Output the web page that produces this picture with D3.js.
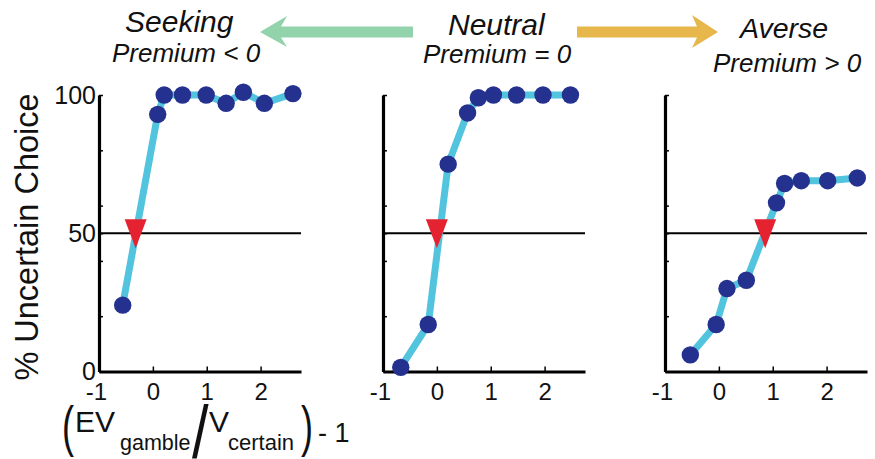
<!DOCTYPE html>
<html>
<head>
<meta charset="utf-8">
<script src="https://cdn.jsdelivr.net/npm/d3@7"></script>
<style>
  body { margin: 0; background: #fff; }
  svg { font-family: "Liberation Sans", Arial, Helvetica, sans-serif; }
</style>
</head>
<body>
<svg width="875" height="459"></svg>
<script>
// data
let xTickValues = [-1, 0, 1, 2];
let yTickValues = [0, 20, 40, 50, 60, 80, 100];
let yTickLabels = [0, 50, 100];

let seekingX = [-0.56, 0.09, 0.21, 0.55, 0.99, 1.36, 1.68, 2.07, 2.60];
let seekingY = [24, 93, 100, 100, 100, 97, 101, 97, 100.5];
let neutralX = [-0.67, -0.16, 0.21, 0.57, 0.77, 1.05, 1.48, 1.97, 2.48];
let neutralY = [1.5, 17, 75, 93.5, 99, 100, 100, 100, 100];
let averseX = [-0.53, -0.05, 0.15, 0.51, 1.07, 1.22, 1.53, 2.02, 2.57];
let averseY = [6, 17, 30, 33, 61, 68, 69, 69, 70];
let indifference = [-0.32, 0.0, 0.86];

// layout
let panelLeft = [99, 383, 665];
let plotTop = 95, plotBottom = 371.5;
let width = 202;

let svg = d3.select('svg');

let xScale = d3.scaleLinear().domain([-1, 2.75]).range([0, width]);
let yScale = d3.scaleLinear().domain([0, 100]).range([plotBottom - plotTop, 0]);

let line = d3.line()
  .x(d => xScale(d[0]))
  .y(d => yScale(d[1]));

function drawPanel(i, xs, ys, thr) {
  let g = svg.append('g')
    .attr('transform', `translate(${panelLeft[i]},${plotTop})`);

  // 50% reference line
  g.append('line')
    .attr('x1', 0).attr('x2', width)
    .attr('y1', yScale(50)).attr('y2', yScale(50))
    .attr('stroke', '#000').attr('stroke-width', 2);

  // axes
  let yAxis = g.append('g')
    .call(d3.axisLeft(yScale)
      .tickValues(yTickValues)
      .tickSizeInner(-4).tickSizeOuter(0).tickPadding(3)
      .tickFormat(d => (i == 0 && yTickLabels.includes(d)) ? d : ''));
  let xAxis = g.append('g')
    .attr('transform', `translate(0,${yScale(0)})`)
    .call(d3.axisBottom(xScale)
      .tickValues(xTickValues)
      .tickSizeInner(-5).tickSizeOuter(0).tickPadding(11)
      .tickFormat(d => d < 0 ? '-' + Math.abs(d) : String(d)));

  [xAxis, yAxis].forEach(a => {
    a.select('.domain').attr('stroke-width', 3.2);
    a.selectAll('.tick line').attr('stroke-width', 1.5);
    a.selectAll('.tick text')
      .attr('font-size', 24)
      .attr('font-family', '"Liberation Sans", Arial, sans-serif')
      .attr('fill', '#111');
  });
  yAxis.selectAll('.tick text').attr('font-size', 25);
  // "-1" sits centred on its digit a little, like the original
  xAxis.selectAll('.tick text').filter(d => d < 0).attr('dx', -3);

  let pts = xs.map((x, k) => [x, ys[k]]);

  g.append('path')
    .datum(pts)
    .attr('d', line)
    .attr('fill', 'none')
    .attr('stroke', '#52c4dd')
    .attr('stroke-width', 7)
    .attr('stroke-linejoin', 'round');

  g.selectAll('circle')
    .data(pts)
    .enter()
    .append('circle')
      .attr('cx', d => xScale(d[0]))
      .attr('cy', d => yScale(d[1]))
      .attr('r', 8.7)
      .attr('fill', '#25318e');

  // indifference point marker
  let tx = xScale(thr), ty = yScale(50);
  g.append('path')
    .attr('d', `M${tx - 11},${ty - 14}L${tx + 11},${ty - 14}L${tx},${ty + 15}Z`)
    .attr('fill', '#e52330');
}

drawPanel(0, seekingX, seekingY, indifference[0]);
drawPanel(1, neutralX, neutralY, indifference[1]);
drawPanel(2, averseX, averseY, indifference[2]);

// y axis title
svg.append('text')
  .attr('transform', 'translate(38,237) rotate(-90)')
  .attr('text-anchor', 'middle')
  .attr('font-size', 32.5)
  .attr('fill', '#111')
  .text('% Uncertain Choice');

// x axis title
let xt = svg.append('g').attr('fill', '#111');
xt.append('text').attr('x', 62).attr('y', 445).attr('font-size', 56)
  .attr('textLength', 12).attr('lengthAdjust', 'spacingAndGlyphs').text('(');
xt.append('text').attr('x', 75).attr('y', 432).attr('font-size', 30).text('EV');
xt.append('text').attr('x', 120).attr('y', 450).attr('font-size', 21.5).text('gamble');
xt.append('text').attr('transform', 'translate(192,458) scale(1.3,1.6)')
  .attr('font-size', 46).text('/');
xt.append('text').attr('x', 209).attr('y', 432).attr('font-size', 30).text('V');
xt.append('text').attr('x', 228).attr('y', 450).attr('font-size', 22).text('certain');
xt.append('text').attr('x', 301).attr('y', 445).attr('font-size', 56)
  .attr('textLength', 12).attr('lengthAdjust', 'spacingAndGlyphs').text(')');
xt.append('text').attr('x', 318).attr('y', 442).attr('font-size', 27).text('- 1');

// header: arrows and labels
svg.append('path')
  .attr('d', 'M260,32L287,16L281,26.5L413,26.5L413,37.5L281,37.5L287,47Z')
  .attr('fill', '#93d3ab');
svg.append('path')
  .attr('d', 'M718,32L692,15L697,26.5L577,26.5L577,37.5L697,37.5L692,48Z')
  .attr('fill', '#e7b74b');

let header = [
  { t: 'Seeking', x: 125, y: 32, s: 30 },
  { t: 'Premium < 0', x: 112, y: 62, s: 26 },
  { t: 'Neutral', x: 448, y: 35, s: 30 },
  { t: 'Premium = 0', x: 423, y: 63, s: 26 },
  { t: 'Averse', x: 740, y: 38, s: 28.5 },
  { t: 'Premium > 0', x: 713, y: 72, s: 26 }
];
svg.append('g')
  .selectAll('text')
  .data(header)
  .enter()
  .append('text')
    .attr('x', d => d.x)
    .attr('y', d => d.y)
    .attr('font-size', d => d.s)
    .attr('font-style', 'italic')
    .attr('fill', '#111')
    .text(d => d.t);
</script>
</body>
</html>
